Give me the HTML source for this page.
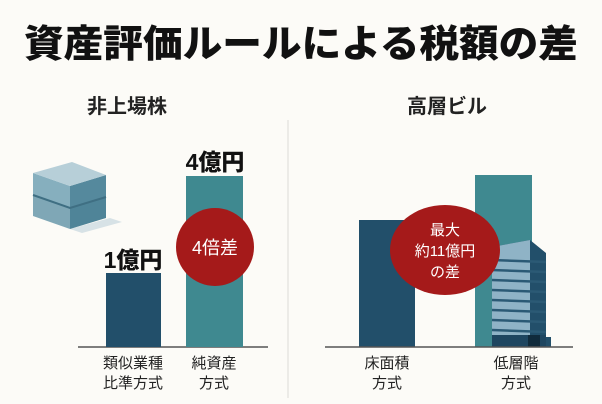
<!DOCTYPE html>
<html><head><meta charset="utf-8"><style>
html,body{margin:0;padding:0;background:#fcfbf7;}
body{width:602px;height:404px;overflow:hidden;position:relative;font-family:"Liberation Sans","Noto Sans CJK JP",sans-serif;}
svg{position:absolute;left:0;top:0;}
</style></head><body>
<svg width="602" height="404" viewBox="0 0 602 404" font-family="Liberation Sans, Noto Sans CJK JP, sans-serif">
<rect width="602" height="404" fill="#fcfbf7"/>
<text x="301" y="57" text-anchor="middle" font-size="38" font-weight="900" fill="#111" textLength="554" lengthAdjust="spacingAndGlyphs">資産評価ルールによる税額の差</text>
<text x="127" y="113" text-anchor="middle" font-size="20" font-weight="700" fill="#222">非上場株</text>
<text x="447" y="113" text-anchor="middle" font-size="20" font-weight="700" fill="#222">高層ビル</text>
<line x1="288" y1="120" x2="288" y2="398" stroke="#e6e6e2" stroke-width="1.5"/>
<!-- block icon -->
<polygon points="70,229 110,218 122,222 82,233" fill="#d7e2e6"/>
<polygon points="33,195 70,208 70,229 33,216" fill="#7fa7b6"/>
<polygon points="70,208 106,197 106,218 70,229" fill="#4f8498"/>
<polygon points="33,173 70,186 70,208 33,195" fill="#86afbe"/>
<polygon points="70,186 106,175 106,197 70,208" fill="#55899d"/>
<polyline points="33,195 70,208 106,197" fill="none" stroke="#3f6f83" stroke-width="2"/>
<polygon points="33,173 72,162 106,175 70,186" fill="#b7cfd8"/>
<!-- left chart -->
<line x1="78" y1="347" x2="268" y2="347" stroke="#555" stroke-width="1.5"/>
<rect x="106" y="273" width="55" height="74" fill="#224f6a"/>
<rect x="186" y="176" width="57" height="171" fill="#3f8990"/>
<text x="133" y="268" text-anchor="middle" font-size="23" font-weight="900" fill="#111">1億円</text>
<text x="215" y="170" text-anchor="middle" font-size="23" font-weight="900" fill="#111">4億円</text>
<circle cx="215" cy="247" r="39" fill="#a51a1a"/>
<text x="215" y="254" text-anchor="middle" font-size="18" fill="#fff">4倍差</text>
<text x="133" y="368" text-anchor="middle" font-size="15" fill="#222">類似業種</text>
<text x="133" y="388" text-anchor="middle" font-size="15" fill="#222">比準方式</text>
<text x="214" y="368" text-anchor="middle" font-size="15" fill="#222">純資産</text>
<text x="214" y="388" text-anchor="middle" font-size="15" fill="#222">方式</text>
<!-- right chart -->
<rect x="359" y="220" width="56" height="127" fill="#224f6a"/>
<rect x="475" y="175" width="57" height="172" fill="#3f8990"/>
<polygon points="492,247 530,240 546,253 546,337 551,337 551,347 492,347" fill="#224f6a"/>
<polygon points="492,247 530,240 530,347 492,347" fill="#8fb3c6"/>
<g stroke="#2b5a75" stroke-width="2.5">
<line x1="492" y1="260" x2="546" y2="262"/><line x1="492" y1="270" x2="546" y2="272"/>
<line x1="492" y1="280" x2="546" y2="282"/><line x1="492" y1="290" x2="546" y2="292"/>
<line x1="492" y1="300" x2="546" y2="302"/><line x1="492" y1="310" x2="546" y2="312"/>
<line x1="492" y1="320" x2="546" y2="322"/><line x1="492" y1="330" x2="546" y2="332"/>
</g>
<rect x="492" y="335" width="54" height="12" fill="#1e4660"/>
<rect x="528" y="335" width="12" height="12" fill="#102b3c"/>
<line x1="325" y1="347" x2="573" y2="347" stroke="#555" stroke-width="1.5"/>
<ellipse cx="445" cy="250" rx="55" ry="45" fill="#a51a1a"/>
<text x="445" y="235" text-anchor="middle" font-size="15" fill="#fff">最大</text>
<text x="445" y="256" text-anchor="middle" font-size="15" fill="#fff">約11億円</text>
<text x="445" y="277" text-anchor="middle" font-size="15" fill="#fff">の差</text>
<text x="387" y="368" text-anchor="middle" font-size="15" fill="#222">床面積</text>
<text x="387" y="388" text-anchor="middle" font-size="15" fill="#222">方式</text>
<text x="516" y="368" text-anchor="middle" font-size="15" fill="#222">低層階</text>
<text x="516" y="388" text-anchor="middle" font-size="15" fill="#222">方式</text>
</svg>
</body></html>
